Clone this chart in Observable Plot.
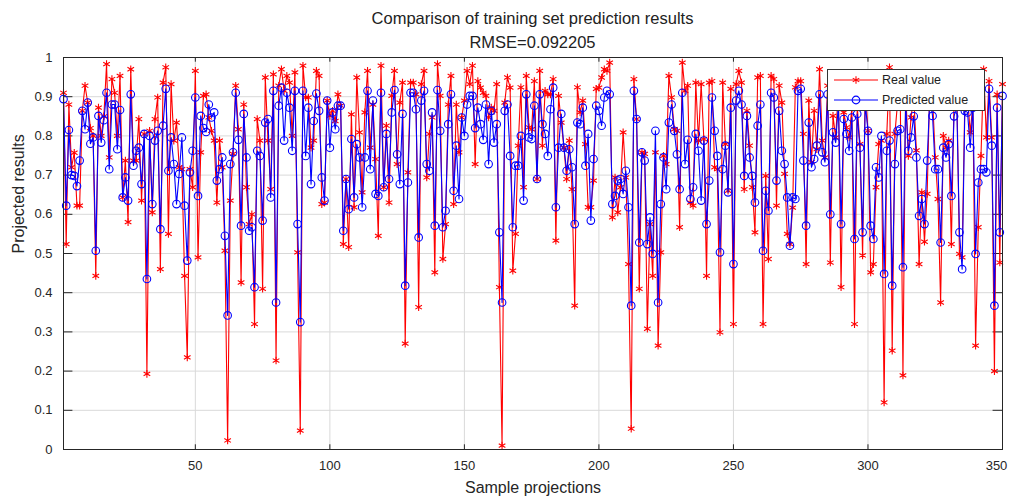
<!DOCTYPE html>
<html>
<head>
<meta charset="utf-8">
<script src="https://cdn.jsdelivr.net/npm/d3@7"></script>
<script src="https://cdn.jsdelivr.net/npm/@observablehq/plot@0.6"></script>
<style>
  html, body { margin: 0; padding: 0; background: #fff; }
  body { width: 1011px; height: 502px; overflow: hidden; font-family: "Liberation Sans", Arial, sans-serif; }
  #wrap { position: relative; width: 1011px; height: 502px; }
  #head { height: 50px; text-align: center; color: #222; font-size: 16.5px; line-height: 24px; padding-left: 54px; box-sizing: border-box; padding-top: 6px; }
  #head div { height: 24px; }
  #legend { position: absolute; left: 827px; top: 69px; width: 158px; height: 42px; background: #fff; border: 1px solid #333; box-sizing: border-box; font-size: 12.5px; color: #222; }
  #legend .row { display: flex; align-items: center; height: 20px; }
  #legend svg { margin-left: 6px; margin-right: 4px; }
</style>
</head>
<body>
<div id="wrap">
  <div id="head"><div id="t1"></div><div id="t2"></div></div>
  <div id="chart"></div>
  <div id="legend"></div>
</div>
<script>
const title = "Comparison of training set prediction results";
const subtitle = "RMSE=0.092205";
const xLabel = "Sample projections";
const yLabel = "Projected results";
const seriesNames = ["Real value", "Predicted value"];
const xTicks = [50, 100, 150, 200, 250, 300, 350];
const yTicks = [0, 0.1, 0.2, 0.3, 0.4, 0.5, 0.6, 0.7, 0.8, 0.9, 1];

const realValues = [
0.91,0.524,0.88,0.72,0.757,0.622,0.622,0.864,0.928,0.885,
0.82,0.80,0.443,0.872,0.80,0.85,0.983,0.745,0.945,0.91,
0.80,0.953,0.643,0.737,0.58,0.97,0.737,0.737,0.843,0.635,
0.805,0.193,0.813,0.605,0.843,0.898,0.46,0.936,0.975,0.55,
0.932,0.788,0.834,0.72,0.715,0.443,0.235,0.715,0.669,0.966,
0.49,0.758,0.902,0.906,0.847,0.813,0.788,0.63,0.788,0.72,
0.507,0.023,0.635,0.754,0.928,0.817,0.426,0.88,0.669,0.575,
0.60,0.32,0.843,0.788,0.41,0.949,0.788,0.664,0.957,0.227,
0.928,0.97,0.915,0.953,0.936,0.80,0.962,0.503,0.048,0.979,
0.898,0.898,0.77,0.788,0.966,0.953,0.626,0.63,0.89,0.851,
0.864,0.838,0.906,0.877,0.524,0.69,0.516,0.855,0.618,0.949,
0.809,0.656,0.86,0.966,0.77,0.88,0.741,0.545,0.979,0.669,
0.826,0.63,0.902,0.966,0.728,0.885,0.936,0.27,0.707,0.936,
0.936,0.906,0.363,0.932,0.966,0.694,0.805,0.847,0.452,0.983,
0.902,0.486,0.575,0.88,0.953,0.626,0.88,0.758,0.847,0.89,
0.966,0.932,0.979,0.728,0.94,0.923,0.91,0.902,0.847,0.872,
0.864,0.932,0.414,0.01,0.885,0.949,0.923,0.456,0.55,0.775,
0.924,0.669,0.953,0.822,0.817,0.94,0.69,0.966,0.775,0.915,
0.906,0.906,0.945,0.533,0.902,0.834,0.77,0.69,0.788,0.664,
0.367,0.924,0.86,0.89,0.779,0.618,0.618,0.686,0.92,0.923,
0.949,0.97,0.966,0.987,0.592,0.694,0.605,0.669,0.809,0.694,
0.473,0.053,0.945,0.843,0.41,0.758,0.754,0.308,0.575,0.443,
0.758,0.265,0.503,0.749,0.728,0.953,0.898,0.817,0.813,0.567,
0.987,0.915,0.928,0.63,0.622,0.936,0.788,0.932,0.792,0.443,
0.936,0.94,0.72,0.715,0.299,0.936,0.779,0.66,0.92,0.32,
0.932,0.966,0.936,0.664,0.864,0.775,0.669,0.554,0.949,0.953,
0.32,0.698,0.486,0.953,0.945,0.622,0.928,0.885,0.703,0.55,
0.524,0.617,0.924,0.94,0.94,0.805,0.473,0.89,0.733,0.864,
0.766,0.97,0.788,0.745,0.928,0.477,0.851,0.796,0.923,0.414,
0.86,0.822,0.796,0.872,0.32,0.877,0.779,0.495,0.923,0.813,
0.452,0.473,0.669,0.779,0.788,0.12,0.805,0.975,0.252,0.805,
0.885,0.90,0.189,0.92,0.749,0.847,0.90,0.763,0.473,0.656,
0.53,0.652,0.93,0.898,0.745,0.639,0.375,0.80,0.77,0.788,
0.524,0.90,0.93,0.499,0.49,0.889,0.90,0.809,0.88,0.265,
0.567,0.749,0.97,0.796,0.94,0.796,0.20,0.906,0.477,0.932
];

const predictedValues = [
0.894,0.622,0.815,0.70,0.698,0.672,0.737,0.864,0.817,0.885,
0.78,0.796,0.507,0.851,0.783,0.84,0.91,0.715,0.88,0.88,
0.766,0.866,0.643,0.694,0.635,0.906,0.724,0.762,0.77,0.677,
0.805,0.435,0.80,0.626,0.788,0.813,0.562,0.826,0.92,0.711,
0.796,0.728,0.626,0.703,0.796,0.622,0.482,0.707,0.762,0.898,
0.647,0.851,0.82,0.81,0.88,0.847,0.86,0.686,0.715,0.745,
0.545,0.342,0.728,0.758,0.91,0.79,0.571,0.856,0.745,0.558,
0.567,0.414,0.762,0.749,0.584,0.834,0.843,0.643,0.915,0.375,
0.877,0.923,0.788,0.91,0.872,0.762,0.915,0.575,0.325,0.915,
0.749,0.872,0.677,0.838,0.908,0.864,0.694,0.635,0.89,0.77,
0.86,0.817,0.877,0.877,0.558,0.69,0.613,0.792,0.643,0.779,
0.745,0.618,0.745,0.915,0.715,0.89,0.652,0.647,0.91,0.669,
0.805,0.69,0.86,0.917,0.753,0.677,0.856,0.418,0.681,0.91,
0.91,0.868,0.541,0.89,0.915,0.728,0.711,0.86,0.571,0.917,
0.813,0.567,0.609,0.83,0.906,0.66,0.775,0.639,0.847,0.80,
0.88,0.902,0.902,0.82,0.872,0.83,0.79,0.88,0.728,0.864,
0.783,0.83,0.554,0.375,0.864,0.88,0.749,0.567,0.724,0.724,
0.80,0.635,0.906,0.796,0.792,0.877,0.69,0.906,0.83,0.805,
0.749,0.868,0.923,0.618,0.77,0.856,0.77,0.711,0.766,0.72,
0.575,0.834,0.83,0.872,0.724,0.805,0.584,0.741,0.877,0.864,
0.826,0.898,0.915,0.906,0.626,0.647,0.686,0.69,0.652,0.711,
0.618,0.367,0.915,0.843,0.528,0.758,0.737,0.524,0.592,0.499,
0.813,0.375,0.626,0.745,0.664,0.834,0.88,0.813,0.753,0.664,
0.91,0.728,0.79,0.639,0.669,0.805,0.762,0.635,0.788,0.575,
0.686,0.898,0.813,0.749,0.503,0.715,0.775,0.656,0.872,0.473,
0.89,0.915,0.88,0.698,0.851,0.745,0.698,0.63,0.826,0.88,
0.507,0.66,0.609,0.91,0.898,0.686,0.864,0.762,0.728,0.643,
0.52,0.643,0.639,0.915,0.92,0.737,0.571,0.834,0.72,0.741,
0.775,0.906,0.758,0.733,0.906,0.60,0.809,0.783,0.88,0.575,
0.843,0.805,0.762,0.847,0.537,0.856,0.77,0.554,0.88,0.813,
0.571,0.537,0.72,0.694,0.80,0.448,0.762,0.788,0.418,0.728,
0.813,0.817,0.465,0.88,0.762,0.796,0.85,0.745,0.596,0.639,
0.575,0.737,0.90,0.851,0.715,0.715,0.528,0.77,0.745,0.779,
0.647,0.85,0.877,0.554,0.46,0.864,0.86,0.77,0.872,0.499,
0.681,0.715,0.715,0.707,0.92,0.775,0.367,0.872,0.554,0.902
];

document.getElementById("t1").textContent = title;
document.getElementById("t2").textContent = subtitle;

const sampleIndex = d3.range(1, realValues.length + 1);
const realData = sampleIndex.map((s, k) => ({sample: s, value: realValues[k]}));
const predData = sampleIndex.map((s, k) => ({sample: s, value: predictedValues[k]}));

const font = "Liberation Sans, Arial, sans-serif";
const innerXTicks = xTicks.slice(0, -1);
const lastXTick = xTicks.slice(-1);

const chart = Plot.plot({
  width: 1011,
  height: 452,
  marginLeft: 63,
  marginRight: 9,
  marginTop: 7,
  marginBottom: 53,
  style: {fontFamily: font, fontSize: "13px", color: "#262626", background: "#fff"},
  x: {domain: [1, 350]},
  y: {domain: [0, 1]},
  marks: [
    Plot.gridX(xTicks, {stroke: "#d9d9d9", strokeOpacity: 1}),
    Plot.gridY(yTicks, {stroke: "#d9d9d9", strokeOpacity: 1}),
    Plot.axisX({ticks: innerXTicks, tickSize: 0, tickPadding: 11, label: null, fontSize: 13}),
    Plot.axisX({ticks: lastXTick, tickSize: 0, tickPadding: 11, label: null, fontSize: 13, dx: -6}),
    Plot.axisY({ticks: yTicks, tickSize: 0, tickPadding: 11, label: null, tickFormat: d3.format("~g"), fontSize: 13}),
    Plot.ruleX(xTicks, {x: d => d, y1: 0, y2: 0.012, stroke: "#262626"}),
    Plot.ruleX(xTicks, {x: d => d, y1: 0.988, y2: 1, stroke: "#262626"}),
    Plot.ruleY(yTicks, {y: d => d, x1: 1, x2: 4.5, stroke: "#262626"}),
    Plot.ruleY(yTicks, {y: d => d, x1: 346.5, x2: 350, stroke: "#262626"}),
    Plot.line(realData, {x: "sample", y: "value", stroke: "#ff0000", strokeWidth: 1.1}),
    Plot.dot(realData, {x: "sample", y: "value", symbol: "asterisk", stroke: "#ff0000", r: 3.6, strokeWidth: 1.1}),
    Plot.line(predData, {x: "sample", y: "value", stroke: "#0000ff", strokeWidth: 1.1}),
    Plot.dot(predData, {x: "sample", y: "value", symbol: "circle", stroke: "#0000ff", fill: "none", r: 3.8, strokeWidth: 1.1}),
    Plot.frame({stroke: "#262626", strokeWidth: 1}),
    Plot.text([xLabel], {frameAnchor: "bottom", dy: 43, fontSize: 16, fill: "#262626"}),
    Plot.text([yLabel], {frameAnchor: "left", rotate: -90, dx: -45, fontSize: 16, fill: "#262626"})
  ]
});
document.getElementById("chart").appendChild(chart);

// legend
const legend = document.getElementById("legend");
const colors = ["#ff0000", "#0000ff"];
const symbols = ["asterisk", "circle"];
seriesNames.forEach((name, k) => {
  const row = document.createElement("div");
  row.className = "row";
  const sw = d3.create("svg").attr("width", 44).attr("height", 14);
  sw.append("line").attr("x1", 0).attr("x2", 44).attr("y1", 7).attr("y2", 7)
    .attr("stroke", colors[k]).attr("stroke-width", 1.1);
  const sym = symbols[k] === "asterisk" ? d3.symbolAsterisk : d3.symbolCircle;
  sw.append("path").attr("d", d3.symbol(sym, symbols[k] === "asterisk" ? 40 : 46)())
    .attr("transform", "translate(22,7)").attr("fill", "none")
    .attr("stroke", colors[k]).attr("stroke-width", 1.1);
  row.appendChild(sw.node());
  const t = document.createElement("span");
  t.textContent = name;
  row.appendChild(t);
  legend.appendChild(row);
});
</script>
</body>
</html>
